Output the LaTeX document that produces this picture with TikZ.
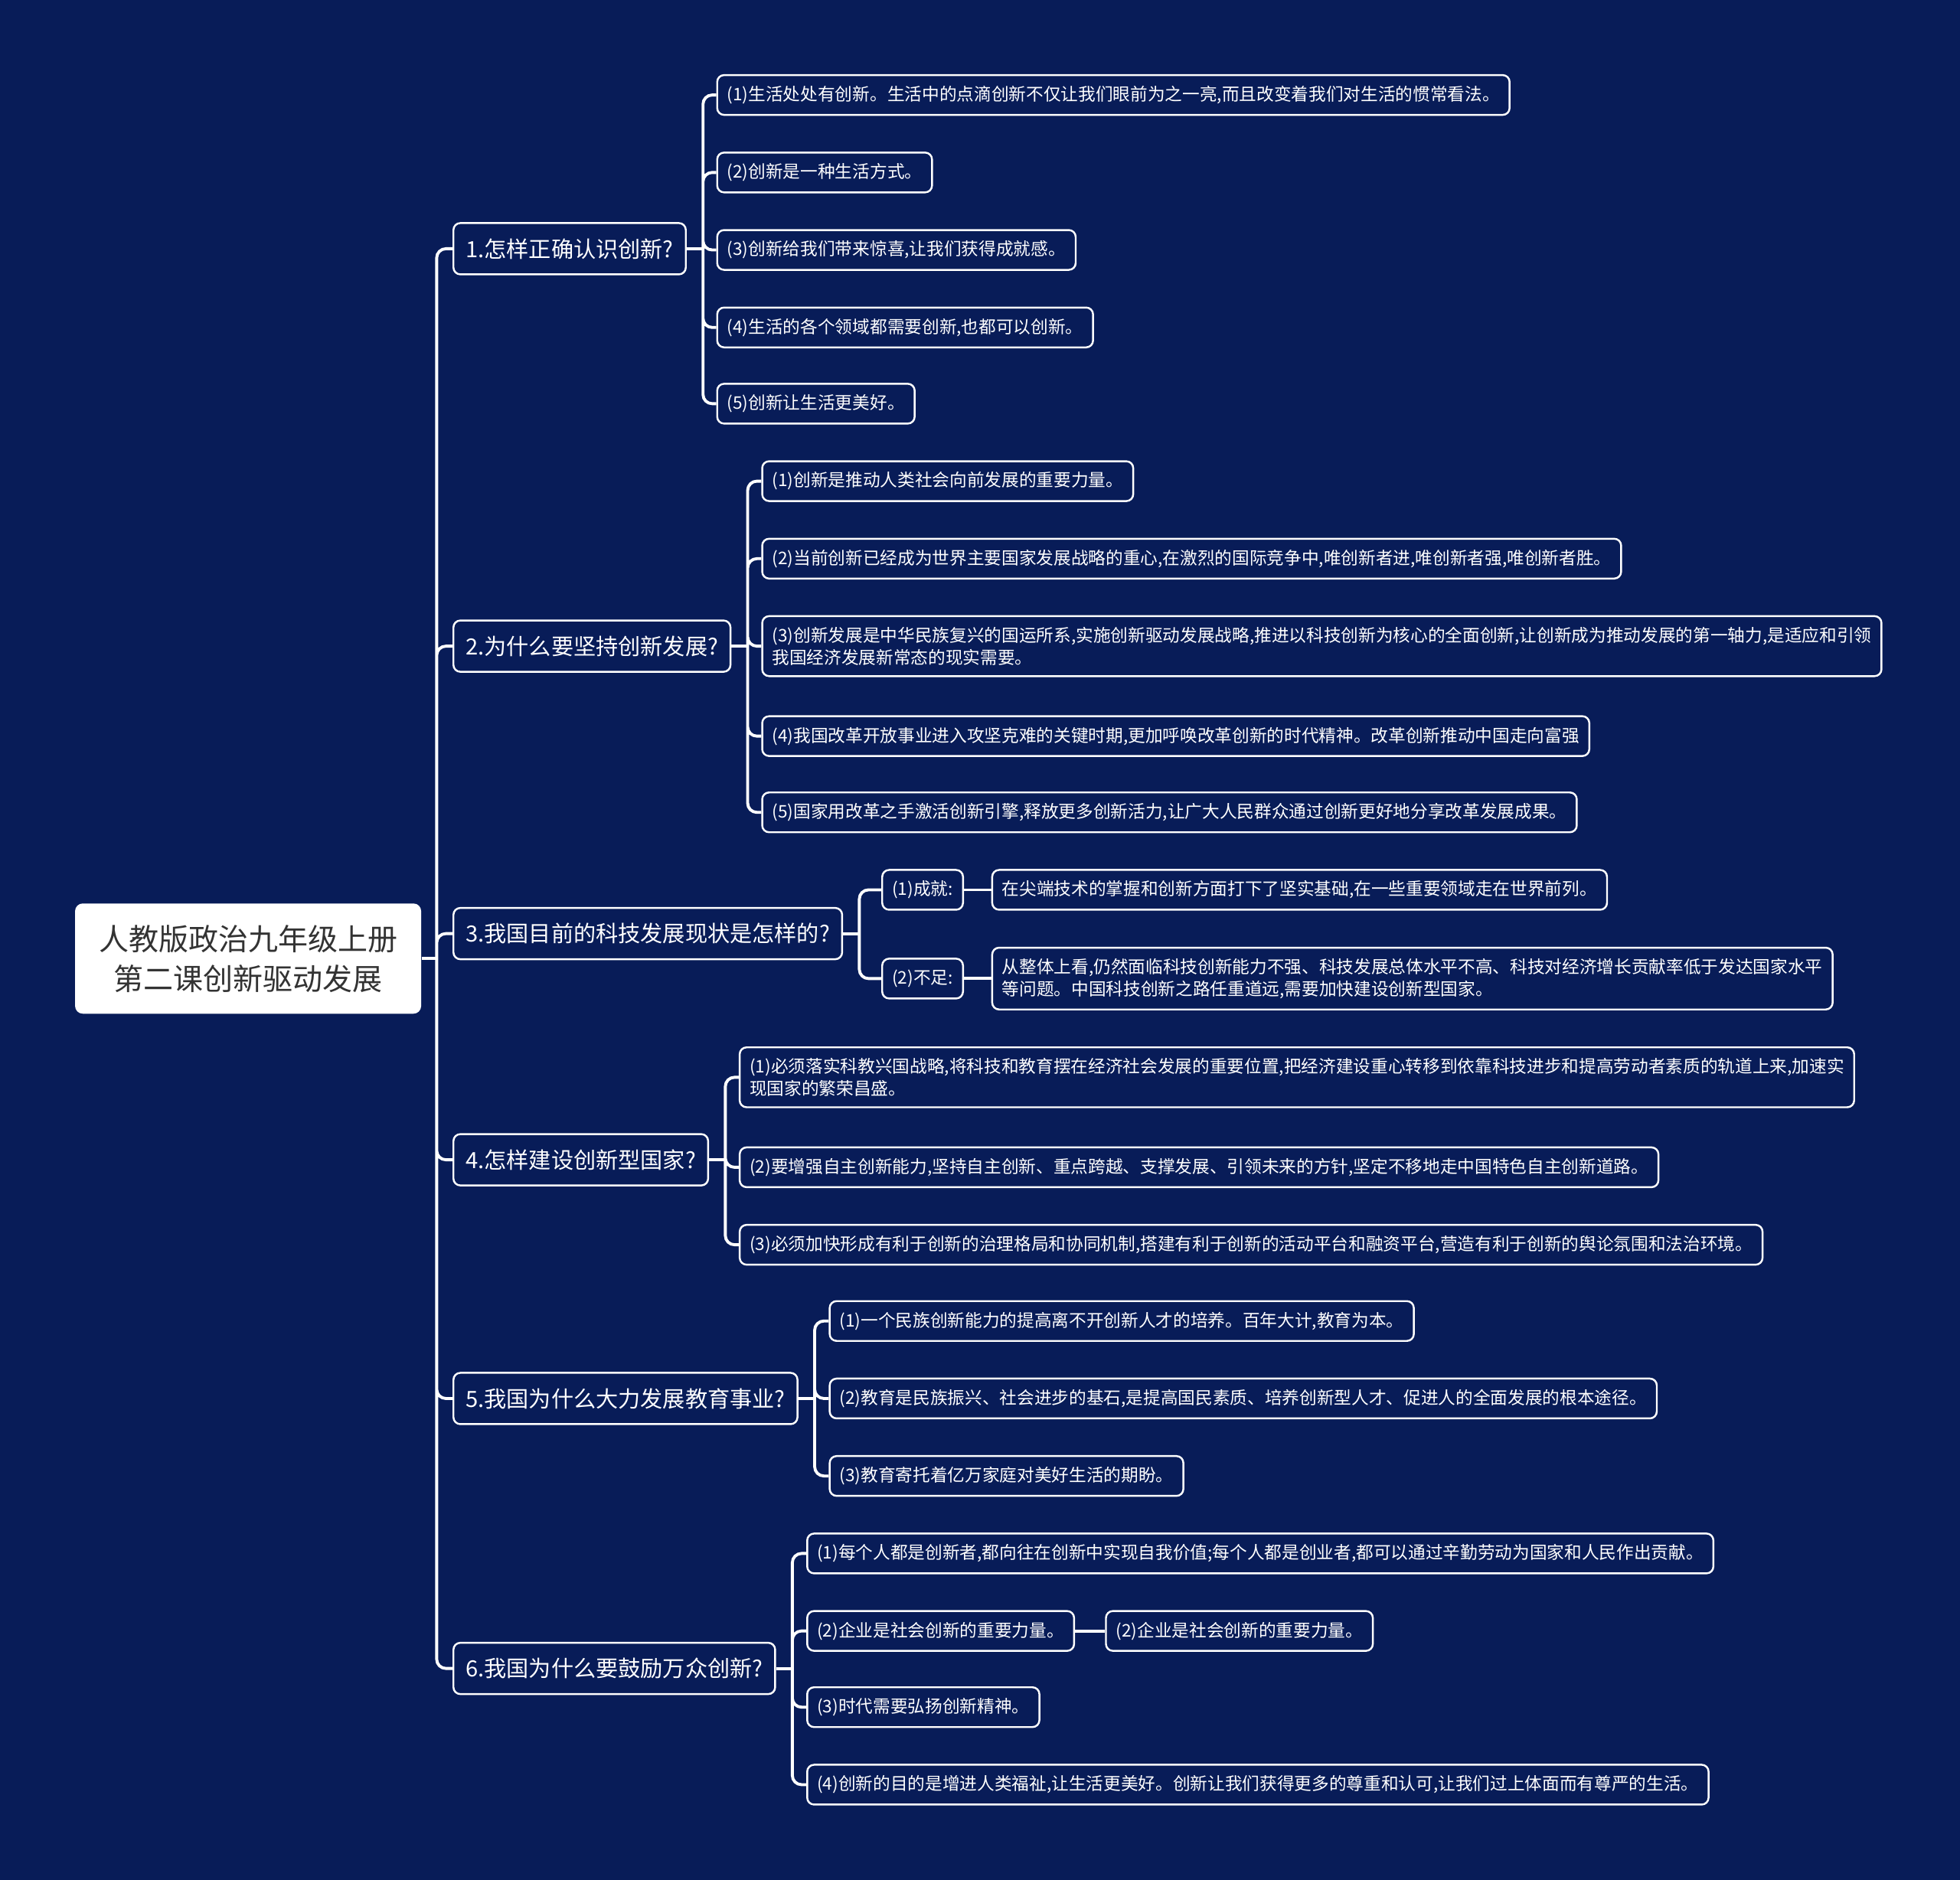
\documentclass[tikz,border=0pt]{standalone}
\usepackage{fontspec}
\newfontfamily\cjk{Noto Sans CJK SC}
\usepackage{xcolor}
\usetikzlibrary{positioning, calc}
\definecolor{navy}{RGB}{8,28,88}
\definecolor{rootgray}{RGB}{51,51,51}

\begin{document}
\begin{tikzpicture}[x=0.16327mm, y=-0.16327mm,
    box/.style={draw=white, line width=0.7pt, rounded corners=0.9mm, fill=navy,
                text=white, anchor=west, align=left},
    leaf/.style={box, font=\cjk\fontsize{6.45pt}{8.3pt}\selectfont,
                 inner xsep=1.3mm, inner ysep=1.4mm, minimum height=5.2mm},
    topic/.style={box, font=\cjk\fontsize{8.3pt}{10pt}\selectfont,
                  inner xsep=1.6mm, minimum height=6.7mm},
    rootbox/.style={fill=white, rounded corners=1mm, text=rootgray, align=center,
                    font=\cjk\fontsize{11.1pt}{14.8pt}\selectfont,
                    minimum width=45.2mm, minimum height=14.4mm},
    link/.style={draw=white, line width=1.1pt, rounded corners=1.2mm}]

    % --- BACKGROUND ---
    \fill[navy] (0,0) rectangle (1568,1504);
    \useasboundingbox (0,0) rectangle (1568,1504);

    % --- ROOT ---
    \node[rootbox] (root) at (198.5,767) {人教版政治九年级上册\\第二课创新驱动发展};

    % --- QUESTIONS ---
    \node[topic] (q1) at (362,199)  {1.怎样正确认识创新?};
    \node[topic] (q2) at (362,517)  {2.为什么要坚持创新发展?};
    \node[topic] (q3) at (362,747)  {3.我国目前的科技发展现状是怎样的?};
    \node[topic] (q4) at (362,928)  {4.怎样建设创新型国家?};
    \node[topic] (q5) at (362,1119) {5.我国为什么大力发展教育事业?};
    \node[topic] (q6) at (362,1335) {6.我国为什么要鼓励万众创新?};

    % --- QUESTION 1 ---
    \node[leaf] (a11) at (573,76)  {(1)生活处处有创新。生活中的点滴创新不仅让我们眼前为之一亮,而且改变着我们对生活的惯常看法。};
    \node[leaf] (a12) at (573,138) {(2)创新是一种生活方式。};
    \node[leaf] (a13) at (573,200) {(3)创新给我们带来惊喜,让我们获得成就感。};
    \node[leaf] (a14) at (573,262) {(4)生活的各个领域都需要创新,也都可以创新。};
    \node[leaf] (a15) at (573,323) {(5)创新让生活更美好。};

    % --- QUESTION 2 ---
    \node[leaf] (a21) at (609,385) {(1)创新是推动人类社会向前发展的重要力量。};
    \node[leaf] (a22) at (609,447) {(2)当前创新已经成为世界主要国家发展战略的重心,在激烈的国际竞争中,唯创新者进,唯创新者强,唯创新者胜。};
    \node[leaf] (a23) at (609,517) {(3)创新发展是中华民族复兴的国运所系,实施创新驱动发展战略,推进以科技创新为核心的全面创新,让创新成为推动发展的第一轴力,是适应和引领\\我国经济发展新常态的现实需要。};
    \node[leaf] (a24) at (609,589) {(4)我国改革开放事业进入攻坚克难的关键时期,更加呼唤改革创新的时代精神。改革创新推动中国走向富强};
    \node[leaf] (a25) at (609,650) {(5)国家用改革之手激活创新引擎,释放更多创新活力,让广大人民群众通过创新更好地分享改革发展成果。};

    % --- QUESTION 3 ---
    \node[leaf] (b31) at (705,712) {(1)成就:};
    \node[leaf] (b32) at (705,783) {(2)不足:};
    \node[leaf] (c31) at (793,712) {在尖端技术的掌握和创新方面打下了坚实基础,在一些重要领域走在世界前列。};
    \node[leaf] (c32) at (793,783) {从整体上看,仍然面临科技创新能力不强、科技发展总体水平不高、科技对经济增长贡献率低于发达国家水平\\等问题。中国科技创新之路任重道远,需要加快建设创新型国家。};

    % --- QUESTION 4 ---
    \node[leaf] (a41) at (591,862) {(1)必须落实科教兴国战略,将科技和教育摆在经济社会发展的重要位置,把经济建设重心转移到依靠科技进步和提高劳动者素质的轨道上来,加速实\\现国家的繁荣昌盛。};
    \node[leaf] (a42) at (591,934) {(2)要增强自主创新能力,坚持自主创新、重点跨越、支撑发展、引领未来的方针,坚定不移地走中国特色自主创新道路。};
    \node[leaf] (a43) at (591,996) {(3)必须加快形成有利于创新的治理格局和协同机制,搭建有利于创新的活动平台和融资平台,营造有利于创新的舆论氛围和法治环境。};

    % --- QUESTION 5 ---
    \node[leaf] (a51) at (663,1057) {(1)一个民族创新能力的提高离不开创新人才的培养。百年大计,教育为本。};
    \node[leaf] (a52) at (663,1119) {(2)教育是民族振兴、社会进步的基石,是提高国民素质、培养创新型人才、促进人的全面发展的根本途径。};
    \node[leaf] (a53) at (663,1181) {(3)教育寄托着亿万家庭对美好生活的期盼。};

    % --- QUESTION 6 ---
    \node[leaf] (a61) at (645,1243) {(1)每个人都是创新者,都向往在创新中实现自我价值;每个人都是创业者,都可以通过辛勤劳动为国家和人民作出贡献。};
    \node[leaf] (a62) at (645,1305) {(2)企业是社会创新的重要力量。};
    \node[leaf] (c62) at (884,1305) {(2)企业是社会创新的重要力量。};
    \node[leaf] (a63) at (645,1366) {(3)时代需要弘扬创新精神。};
    \node[leaf] (a64) at (645,1428) {(4)创新的目的是增进人类福祉,让生活更美好。创新让我们获得更多的尊重和认可,让我们过上体面而有尊严的生活。};

    % --- JUNCTIONS ---
    \coordinate (j0) at ($(root.east)+(12,0)$);
    \coordinate (j1) at ($(q1.east)+(13,0)$);
    \coordinate (j2) at ($(q2.east)+(13,0)$);
    \coordinate (j3) at ($(q3.east)+(13,0)$);
    \coordinate (j4) at ($(q4.east)+(13,0)$);
    \coordinate (j5) at ($(q5.east)+(13,0)$);
    \coordinate (j6) at ($(q6.east)+(13,0)$);

    % --- CONNECTORS ---
    % root to questions
    \draw[link] (root.east) -- (j0);
    \draw[link] (j0) |- (q1.west) (j0) |- (q2.west) (j0) |- (q3.west)
                (j0) |- (q4.west) (j0) |- (q5.west) (j0) |- (q6.west);

    % question 1
    \draw[link] (q1.east) -- (j1);
    \draw[link] (j1) |- (a11.west) (j1) |- (a12.west) (j1) |- (a13.west)
                (j1) |- (a14.west) (j1) |- (a15.west);

    % question 2
    \draw[link] (q2.east) -- (j2);
    \draw[link] (j2) |- (a21.west) (j2) |- (a22.west) (j2) |- (a23.west)
                (j2) |- (a24.west) (j2) |- (a25.west);

    % question 3
    \draw[link] (q3.east) -- (j3);
    \draw[link] (j3) |- (b31.west) (j3) |- (b32.west);
    \draw[link] (b31.east) -- (c31.west);
    \draw[link] (b32.east) -- (c32.west);

    % question 4
    \draw[link] (q4.east) -- (j4);
    \draw[link] (j4) |- (a41.west) (j4) |- (a42.west) (j4) |- (a43.west);

    % question 5
    \draw[link] (q5.east) -- (j5);
    \draw[link] (j5) |- (a51.west) (j5) |- (a52.west) (j5) |- (a53.west);

    % question 6
    \draw[link] (q6.east) -- (j6);
    \draw[link] (j6) |- (a61.west) (j6) |- (a62.west) (j6) |- (a63.west)
                (j6) |- (a64.west);
    \draw[link] (a62.east) -- (c62.west);

\end{tikzpicture}
\end{document}
